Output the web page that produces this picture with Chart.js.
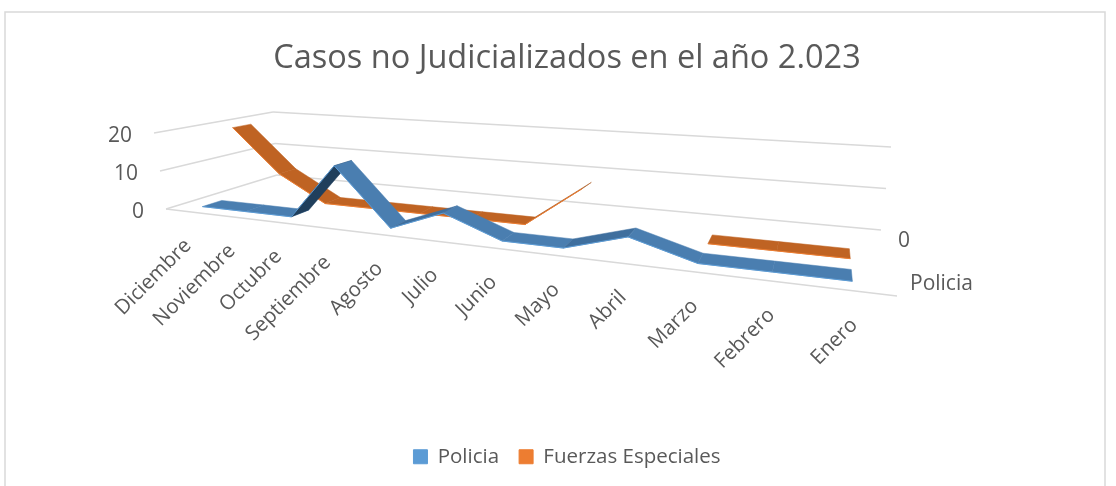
<!DOCTYPE html>
<html>
<head>
<meta charset="utf-8">
<title>Casos no Judicializados</title>
<script src="https://cdn.jsdelivr.net/npm/chart.js@4"></script>
<style>
    body { margin: 0; background: #ffffff; }
    canvas { display: block; }
</style>
</head>
<body>
<canvas id="chart" width="1116" height="486"></canvas>
<script>
const categories = ["Diciembre", "Noviembre", "Octubre", "Septiembre", "Agosto", "Julio", "Junio", "Mayo", "Abril", "Marzo", "Febrero", "Enero"];
const policia = [0, 0, 0, 14, 0, 5, 0, 0, 4, 0, 0, 0];
const fuerzas = [19, 7, 0, 0, 0, 0, 0, 10, null, 0, 0, 0];
const valueTicks = [0, 10, 20];
const depthLabels = ["Policia", "0"];

// corners of the 3D floor as seen on screen: front-left, front-right, back-right, back-left
const floorQuad = [[166, 209], [897, 296], [881, 230], [277, 175]];
// how far the 20 level sits from the floor at front-left, back-right, back-left
const riseFL = [-12, -76], riseBR = [10, -83], riseBL = [-4, -63];
const gridColor = "#d9d9d9";
const textColor = "#595959";
const fontName = "'Open Sans'";

const ribbons = [
    { v0: 0.12, v1: 0.28, edge: "#5b9bd5", flat: "#4a7eb0", rise: "#3f6f9e", under: "#203f5c" },
    { v0: 0.44, v1: 0.6, edge: "#ed7d31", flat: "#bf6323", rise: "#a9561d", under: "#a9561d" }
];

let q = floorQuad;
let dx1 = q[1][0] - q[2][0], dx2 = q[3][0] - q[2][0], sx = q[0][0] - q[1][0] + q[2][0] - q[3][0];
let dy1 = q[1][1] - q[2][1], dy2 = q[3][1] - q[2][1], sy = q[0][1] - q[1][1] + q[2][1] - q[3][1];
let den = dx1 * dy2 - dx2 * dy1;
let g = (sx * dy2 - dx2 * sy) / den;
let h = (dx1 * sy - sx * dy1) / den;
let a = q[1][0] - q[0][0] + g * q[1][0], b = q[3][0] - q[0][0] + h * q[3][0];
let d = q[1][1] - q[0][1] + g * q[1][1], e = q[3][1] - q[0][1] + h * q[3][1];

// linear terms of the height vector, sharing the floor's perspective divisor
let rv = [riseBL[0] * (1 + h) - riseFL[0], riseBL[1] * (1 + h) - riseFL[1]];
let ru = [riseBR[0] * (1 + g + h) - riseFL[0] - rv[0], riseBR[1] * (1 + g + h) - riseFL[1] - rv[1]];

// u along the categories, v into the depth, t height (0 to 1)
function project(u, v, t) {
    let w = g * u + h * v + 1;
    let px = a * u + b * v + q[0][0] + t * (riseFL[0] + ru[0] * u + rv[0] * v);
    let py = d * u + e * v + q[0][1] + t * (riseFL[1] + ru[1] * u + rv[1] * v);
    return [px / w, py / w];
}

function normalized(chart, px, py) {
    let area = chart.chartArea;
    return [(px - area.left) / area.width, (area.bottom - py) / area.height];
}

function drawLine(ctx, p0, p1) {
    ctx.beginPath();
    ctx.moveTo(p0[0], p0[1]);
    ctx.lineTo(p1[0], p1[1]);
    ctx.stroke();
}

const box3d = {
    id: "box3d",
    beforeDraw(chart) {
        let ctx = chart.ctx;
        let yScale = chart.scales.y;
        ctx.save();
        ctx.fillStyle = "#ffffff";
        ctx.fillRect(0, 0, chart.width, chart.height);
        ctx.strokeStyle = gridColor;
        ctx.lineWidth = 1.5;
        ctx.strokeRect(5, 12, 1100, 490);

        // walls
        ctx.lineWidth = 1.4;
        valueTicks.forEach(function (val) {
            let t = normalized(chart, 0, yScale.getPixelForValue(val))[1];
            let p0 = project(0, 0, t), p1 = project(0, 1, t), p2 = project(1, 1, t);
            drawLine(ctx, p0, p1);
            drawLine(ctx, p1, p2);
            ctx.fillStyle = textColor;
            ctx.font = "21px " + fontName;
            ctx.textAlign = "right";
            ctx.textBaseline = "middle";
            ctx.fillText(String(val), p0[0] - 22, p0[1] + 3);
        });
        drawLine(ctx, project(0, 0, 0), project(1, 0, 0));
        ctx.restore();
    },
    afterDatasetsUpdate(chart) {
        // move the library's points onto the 3D ribbon edge
        chart.data.datasets.forEach(function (ds, i) {
            let meta = chart.getDatasetMeta(i);
            let rib = ribbons[i];
            meta.data.forEach(function (pt) {
                let n = normalized(chart, pt.x, pt.y);
                pt.u3d = n[0];
                pt.t3d = n[1];
                let p = project(n[0], rib.v0, n[1]);
                pt.x = p[0];
                pt.y = p[1];
            });
        });
    },
    beforeDatasetDraw(chart, args) {
        let ctx = chart.ctx;
        let rib = ribbons[args.index];
        let pts = args.meta.data;
        ctx.save();
        for (let i = 0; i < pts.length - 1; i++) {
            let p = pts[i], n = pts[i + 1];
            if (p.skip || n.skip) continue;
            let c0 = project(p.u3d, rib.v0, p.t3d), c1 = project(n.u3d, rib.v0, n.t3d);
            let c2 = project(n.u3d, rib.v1, n.t3d), c3 = project(p.u3d, rib.v1, p.t3d);
            let cross = (c1[0] - c0[0]) * (c3[1] - c0[1]) - (c1[1] - c0[1]) * (c3[0] - c0[0]);
            let color = rib.flat;
            if (cross > 0) color = rib.under;
            else if (n.t3d > p.t3d) color = rib.rise;
            ctx.fillStyle = color;
            ctx.strokeStyle = color;
            ctx.lineWidth = 0.5;
            ctx.beginPath();
            ctx.moveTo(c0[0], c0[1]);
            ctx.lineTo(c1[0], c1[1]);
            ctx.lineTo(c2[0], c2[1]);
            ctx.lineTo(c3[0], c3[1]);
            ctx.closePath();
            ctx.fill();
            ctx.stroke();
        }
        ctx.restore();
    },
    afterDraw(chart) {
        let ctx = chart.ctx;
        let xScale = chart.scales.x;
        ctx.save();
        ctx.fillStyle = textColor;
        ctx.font = "20.5px " + fontName;
        ctx.textBaseline = "middle";
        categories.forEach(function (name, i) {
            let u = normalized(chart, xScale.getPixelForValue(i), 0)[0];
            let p = project(u, 0, 0);
            ctx.save();
            ctx.translate(p[0] + 1, p[1] + 31);
            ctx.rotate(-Math.PI / 4);
            ctx.textAlign = "right";
            ctx.fillText(name, 0, 0);
            ctx.restore();
        });
        ctx.textAlign = "left";
        ctx.font = "21px " + fontName;
        ctx.fillText(depthLabels[0], 910, 284);
        ctx.fillText(depthLabels[1], 898, 241);
        ctx.restore();
    }
};

new Chart(document.getElementById("chart"), {
    type: "line",
    data: {
        labels: categories,
        datasets: [
            { label: "Policia", data: policia, borderColor: ribbons[0].edge, backgroundColor: "#5b9bd5", borderWidth: 1, pointRadius: 0, clip: false, tension: 0 },
            { label: "Fuerzas Especiales", data: fuerzas, borderColor: ribbons[1].edge, backgroundColor: "#ed7d31", borderWidth: 1, pointRadius: 0, clip: false, tension: 0 }
        ]
    },
    options: {
        responsive: false,
        animation: false,
        layout: { padding: { left: 118, right: 100, bottom: 9 } },
        scales: {
            x: { offset: true, grid: { display: false }, border: { display: false }, ticks: { display: false } },
            y: { min: 0, max: 20, grid: { display: false }, border: { display: false }, ticks: { display: false, stepSize: 10 } }
        },
        plugins: {
            tooltip: { enabled: false },
            title: {
                display: true,
                text: "Casos no Judicializados en el año 2.023",
                color: textColor,
                font: { family: "Open Sans", size: 32.5, weight: "normal" },
                padding: { top: 39, bottom: 20 }
            },
            legend: {
                position: "bottom",
                labels: {
                    color: textColor,
                    font: { family: "Open Sans", size: 20.5 },
                    boxWidth: 14,
                    boxHeight: 14,
                    padding: 20
                }
            }
        }
    },
    plugins: [box3d]
});
</script>
</body>
</html>
